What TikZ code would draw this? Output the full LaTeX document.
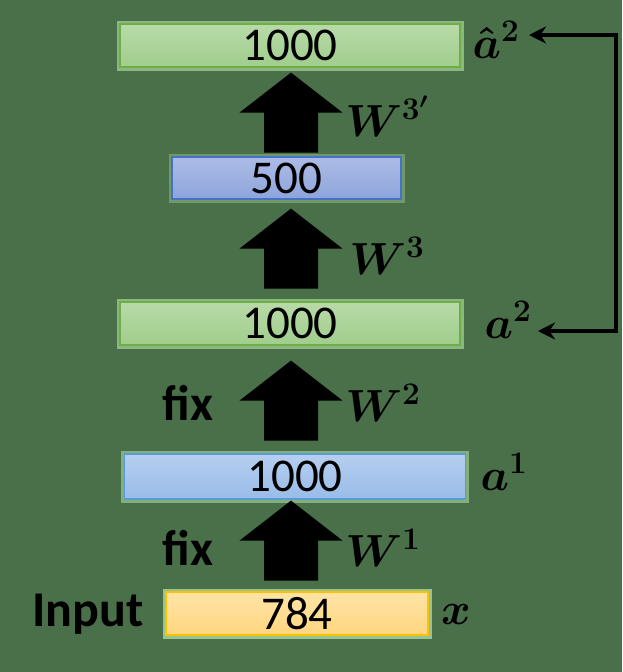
\RequirePackage{fix-cm}
\documentclass[tikz,border=0pt]{standalone}
\usepackage{fontspec}
\setmainfont{Carlito}
\usetikzlibrary{calc,arrows.meta}
\definecolor{bg}{RGB}{74,112,74}
\definecolor{grtop}{RGB}{184,219,168}
\definecolor{grbot}{RGB}{160,205,140}
\definecolor{grline}{RGB}{112,173,71}
\definecolor{grhalo}{RGB}{138,184,128}
\definecolor{bltop}{RGB}{172,188,230}
\definecolor{blbot}{RGB}{142,164,220}
\definecolor{blline}{RGB}{68,114,196}
\definecolor{blhalo}{RGB}{112,152,106}
\definecolor{lbtop}{RGB}{182,206,240}
\definecolor{lbbot}{RGB}{152,188,232}
\definecolor{lbline}{RGB}{91,155,213}
\definecolor{lbhalo}{RGB}{130,176,124}
\definecolor{yetop}{RGB}{255,228,166}
\definecolor{yebot}{RGB}{255,214,128}
\definecolor{yeline}{RGB}{255,192,0}
\definecolor{yehalo}{RGB}{150,196,144}
\newcommand\numfont{\fontsize{47}{50}\selectfont}
\newcommand\labfont{\fontsize{45}{48}\selectfont\bfseries\boldmath}
\newcommand\wordfont{\fontsize{50}{54}\selectfont\bfseries}
% big upward block arrow below node #1, tip #2 pt under it
\newcommand\blockup[2]{%
  \fill ($(#1.south -| axis)+(0,#2)$) -- ++(51.5,40) -- ++(-24.5,0) -- ++(0,40)
    -- ++(-54,0) -- ++(0,-40) -- ++(-24.5,0) -- cycle;}
\tikzset{
  layer/.style={line width=1.2pt, inner sep=0pt, font=\numfont,
    minimum width=340pt, minimum height=43pt},
  greenlayer/.style={layer, draw=grline, top color=grtop, bottom color=grbot,
    preaction={draw=grhalo, line width=7pt}},
  bluelayer/.style={layer, draw=blline, top color=bltop, bottom color=blbot,
    preaction={draw=blhalo, line width=7pt}},
  lightlayer/.style={layer, draw=lbline, top color=lbtop, bottom color=lbbot,
    preaction={draw=lbhalo, line width=7pt}},
  inputlayer/.style={layer, draw=yeline, top color=yetop, bottom color=yebot,
    preaction={draw=yehalo, line width=7pt}},
  lab/.style={font=\labfont, inner sep=0pt},
  word/.style={font=\wordfont, inner sep=0pt},
}
\begin{document}
\begin{tikzpicture}[x=1pt,y=-1pt,>={Stealth[length=17pt,width=17pt]}]
  \fill[bg] (0,0) rectangle (622,672);
  \coordinate (axis) at (291,0);
  \coordinate (rail) at (616,0);
  % layers
  \node[greenlayer] (rec) at (290,45.5) {1000};
  \node[bluelayer,minimum width=229pt,minimum height=42pt] (code) at (286.5,178) {500};
  \node[greenlayer] (hid2) at (290,323.5) {1000};
  \node[lightlayer,minimum width=341pt,minimum height=45pt] (hid1) at (295,476.5) {1000};
  \node[inputlayer,minimum width=262pt] (inp) at (297,613.5) {784};
  % block arrows
  \blockup{rec}{5}
  \blockup{code}{9}
  \blockup{hid2}{15}
  \blockup{hid1}{1}
  % labels
  \node[lab] (ahat) at (496,40) {$\hat{a}^2$};
  \node[lab] (w3d) at (387,116) {$W^{3'}$};
  \node[lab] (w3) at (387,256) {$W^3$};
  \node[lab] (a2) at (508,320) {$a^2$};
  \node[word] (fix2) at (188,403) {fix};
  \node[lab] (w2) at (383,403) {$W^2$};
  \node[lab] (a1) at (504,472) {$a^1$};
  \node[word] (fix1) at (188,548) {fix};
  \node[lab] (w1) at (383,548) {$W^1$};
  \node[word] (inlab) at (88,614) {Input};
  \node[lab] (xlab) at (456,614) {$x$};
  % compare a^2 with its reconstruction
  \coordinate (topend) at (529,35);
  \coordinate (lowend) at (538,331);
  \draw[<->,line width=3.5pt] (topend) -- (topend -| rail) -- (lowend -| rail) -- (lowend);
\end{tikzpicture}
\end{document}
